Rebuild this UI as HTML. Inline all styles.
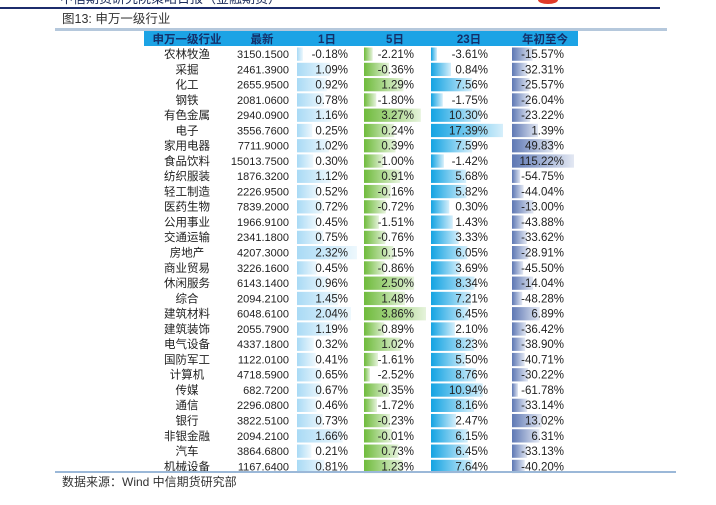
<!DOCTYPE html>
<html><head><meta charset="utf-8"><style>
body{margin:0;background:#fff;width:716px;height:500px;overflow:hidden;font-family:"Liberation Sans","Noto Sans CJK SC",sans-serif}
svg text{font-family:"Liberation Sans","Noto Sans CJK SC",sans-serif}
</style></head><body>
<svg id="s" width="716" height="500" xmlns="http://www.w3.org/2000/svg">
<defs>
<linearGradient id="g1"><stop offset="0" stop-color="#a9daf5"/><stop offset="1" stop-color="#eef8fd"/></linearGradient>
<linearGradient id="g2"><stop offset="0" stop-color="#6fbb3c"/><stop offset="1" stop-color="#e6f3dc"/></linearGradient>
<linearGradient id="g3"><stop offset="0" stop-color="#13a3e2"/><stop offset="1" stop-color="#d6effb"/></linearGradient>
<linearGradient id="g4"><stop offset="0" stop-color="#5e78b4"/><stop offset="1" stop-color="#e3e8f3"/></linearGradient>
</defs>
<text x="60" y="3" font-size="13" fill="#1a2a5a">中信期货研究院策略日报（金融期货）</text>
<ellipse cx="548" cy="0" rx="10" ry="4" fill="#e03a2a"/>
<rect x="0" y="7" width="660" height="2" fill="#1c2c6c"/>
<text x="62" y="23" font-size="12.5" fill="#333">图13: 申万一级行业</text>
<rect x="55" y="28" width="612" height="3" fill="#b5c8dc"/>
<rect x="144" y="31" width="434" height="15" fill="#1ca3e5"/>
<g font-size="11.5" fill="#14306a" text-anchor="middle" font-weight="600">
<text x="187" y="43">申万一级行业</text><text x="262" y="43">最新</text><text x="327" y="43">1日</text><text x="395" y="43">5日</text><text x="469" y="43">23日</text><text x="545" y="43">年初至今</text>
</g>
<g id="body"></g>
<rect x="55" y="471" width="621" height="2" fill="#9bb8d8"/>
<text x="62" y="486" font-size="12" fill="#333">数据来源：Wind  中信期货研究部</text>
</svg>
<script>
const names=["农林牧渔","采掘","化工","钢铁","有色金属","电子","家用电器","食品饮料","纺织服装","轻工制造","医药生物","公用事业","交通运输","房地产","商业贸易","休闲服务","综合","建筑材料","建筑装饰","电气设备","国防军工","计算机","传媒","通信","银行","非银金融","汽车","机械设备"];
const latest=["3150.1500","2461.3900","2655.9500","2081.0600","2940.0900","3556.7600","7711.9000","15013.7500","1876.3200","2226.9500","7839.2000","1966.9100","2341.1800","4207.3000","3226.1600","6143.1400","2094.2100","6048.6100","2055.7900","4337.1800","1122.0100","4718.5900","682.7200","2296.0800","3822.5100","2094.2100","3864.6800","1167.6400"];
const d1=[-0.18,1.09,0.92,0.78,1.16,0.25,1.02,0.30,1.12,0.52,0.72,0.45,0.75,2.32,0.45,0.96,1.45,2.04,1.19,0.32,0.41,0.65,0.67,0.46,0.73,1.66,0.21,0.81];
const d5=[-2.21,-0.36,1.29,-1.80,3.27,0.24,0.39,-1.00,0.91,-0.16,-0.72,-1.51,-0.76,0.15,-0.86,2.50,1.48,3.86,-0.89,1.02,-1.61,-2.52,-0.35,-1.72,-0.23,-0.01,0.73,1.23];
const d23=[-3.61,0.84,7.56,-1.75,10.30,17.39,7.59,-1.42,5.68,5.82,0.30,1.43,3.33,6.05,3.69,8.34,7.21,6.45,2.10,8.23,5.50,8.76,10.94,8.16,2.47,6.15,6.45,7.64];
const ytd=[-15.57,-32.31,-25.57,-26.04,-23.22,1.39,49.83,115.22,-54.75,-44.04,-13.00,-43.88,-33.62,-28.91,-45.50,-14.04,-48.28,6.89,-36.42,-38.90,-40.71,-30.22,-61.78,-33.14,13.02,6.31,-33.13,-40.20];
const NS="http://www.w3.org/2000/svg";
const body=document.getElementById('body');
const top0=46.5,rh=15.27;
const cols=[
 {data:d1,x0:297,w:60,textR:348,g:'g1',n:'1d'},
 {data:d5,x0:364,w:62,textR:414,g:'g2',n:'5d'},
 {data:d23,x0:431,w:72,textR:488,g:'g3',n:'23d'},
 {data:ytd,x0:512,w:62,textR:564,g:'g4',n:'ytd'}];
function mk(tag,attrs){const e=document.createElementNS(NS,tag);for(const k in attrs)e.setAttribute(k,attrs[k]);return e;}
cols.forEach(c=>{c.min=Math.min(...c.data);c.max=Math.max(...c.data);c.len=v=>6+(v-c.min)/(c.max-c.min)*(c.w-6);});
names.forEach((nm,i)=>{
 const y=top0+i*rh;
 const t=mk('text',{x:187,y:y+11.5,'font-size':11.5,fill:'#222','text-anchor':'middle'});
 t.textContent=nm;
 
 
 body.appendChild(t);
 const l=mk('text',{x:289,y:y+11.5,'font-size':11,fill:'#222','text-anchor':'end'});
 l.textContent=latest[i];
 
 
 body.appendChild(l);
 cols.forEach(c=>{
  const v=c.data[i];
  const r=mk('rect',{x:c.x0,y:y+1,width:c.len(v).toFixed(1),height:rh-2,fill:'url(#'+c.g+')'});
  
  
  body.appendChild(r);
  const tv=mk('text',{x:c.textR,y:y+11.5,'font-size':11.5,fill:'#222','text-anchor':'end'});
  tv.textContent=v.toFixed(2)+'%';
  
  
  body.appendChild(tv);
 });
});
</script>
</body></html>
